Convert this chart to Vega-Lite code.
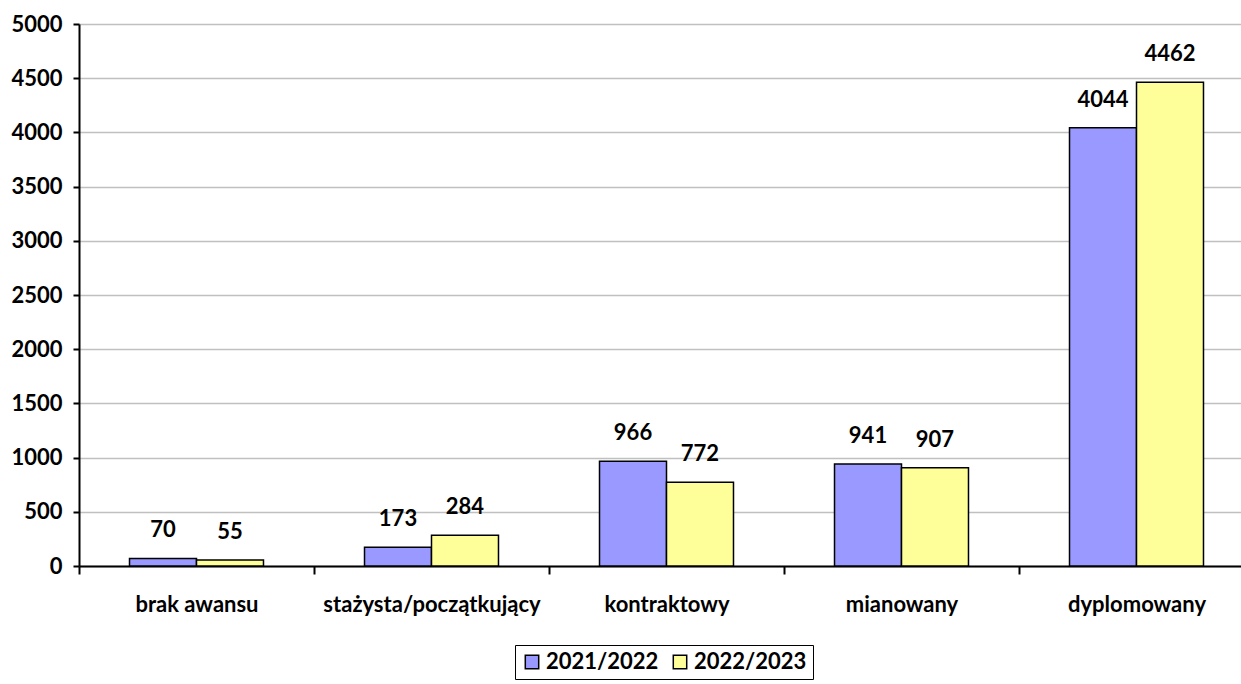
{
  "$schema": "https://vega.github.io/schema/vega-lite/v6.json",
  "width": 1175,
  "height": 542,
  "autosize": {"type": "none"},
  "padding": {"left": 79, "top": 24, "right": 0, "bottom": 118},
  "background": "white",
  "config": {
    "view": {"stroke": null},
    "font": "Lato",
    "axis": {"labelFont": "Lato", "labelColor": "black"},
    "legend": {"labelFont": "Lato"}
  },
  "data": {
    "values": [
      {"kategoria": "brak awansu", "rok": "2021/2022", "liczba": 70},
      {"kategoria": "brak awansu", "rok": "2022/2023", "liczba": 55},
      {"kategoria": "stażysta/początkujący", "rok": "2021/2022", "liczba": 173},
      {"kategoria": "stażysta/początkujący", "rok": "2022/2023", "liczba": 284},
      {"kategoria": "kontraktowy", "rok": "2021/2022", "liczba": 966},
      {"kategoria": "kontraktowy", "rok": "2022/2023", "liczba": 772},
      {"kategoria": "mianowany", "rok": "2021/2022", "liczba": 941},
      {"kategoria": "mianowany", "rok": "2022/2023", "liczba": 907},
      {"kategoria": "dyplomowany", "rok": "2021/2022", "liczba": 4044},
      {"kategoria": "dyplomowany", "rok": "2022/2023", "liczba": 4462}
    ]
  },
  "encoding": {
    "x": {
      "field": "kategoria",
      "type": "nominal",
      "sort": ["brak awansu", "stażysta/początkujący", "kontraktowy", "mianowany", "dyplomowany"],
      "scale": {"paddingInner": 0, "paddingOuter": 0},
      "axis": {
        "title": null,
        "labelAngle": 0,
        "labelLimit": 0,
        "tickBand": "extent",
        "domainColor": "black",
        "domainWidth": 2,
        "tickColor": "black",
        "tickWidth": 2,
        "tickSize": 8,
        "labelPadding": 20,
        "labelFontSize": 22,
        "labelFontWeight": "bold",
        "grid": false
      }
    },
    "xOffset": {
      "field": "rok",
      "type": "nominal",
      "scale": {"paddingInner": 0, "paddingOuter": 0.754}
    },
    "y": {
      "field": "liczba",
      "type": "quantitative",
      "scale": {"domain": [0, 5000], "nice": false},
      "axis": {
        "title": null,
        "format": "d",
        "values": [0, 500, 1000, 1500, 2000, 2500, 3000, 3500, 4000, 4500, 5000],
        "grid": true,
        "gridColor": "#c0c0c0",
        "gridWidth": 1.5,
        "domainColor": "black",
        "domainWidth": 2,
        "tickColor": "black",
        "tickWidth": 2,
        "tickSize": 6,
        "labelPadding": 11,
        "labelFontSize": 22,
        "labelFontWeight": "bold"
      }
    }
  },
  "layer": [
    {
      "mark": {"type": "bar", "stroke": "black", "strokeWidth": 1.5},
      "encoding": {
        "color": {
          "field": "rok",
          "type": "nominal",
          "scale": {"domain": ["2021/2022", "2022/2023"], "range": ["#9999FF", "#FFFF99"]},
          "legend": {
            "title": null,
            "orient": "none",
            "direction": "horizontal",
            "legendX": 436,
            "legendY": 621,
            "strokeColor": "black",
            "fillColor": "white",
            "padding": 6,
            "symbolType": "square",
            "symbolSize": 180,
            "symbolStrokeColor": "black",
            "symbolStrokeWidth": 1.5,
            "symbolOpacity": 1,
            "labelFontSize": 22,
            "labelFontWeight": "bold",
            "labelColor": "black",
            "labelOffset": 3,
            "columnPadding": 10
          }
        }
      }
    },
    {
      "mark": {"type": "text", "dy": -28, "baseline": "middle", "fontSize": 22, "fontWeight": "bold", "color": "black"},
      "encoding": {"text": {"field": "liczba", "type": "quantitative"}}
    }
  ]
}
